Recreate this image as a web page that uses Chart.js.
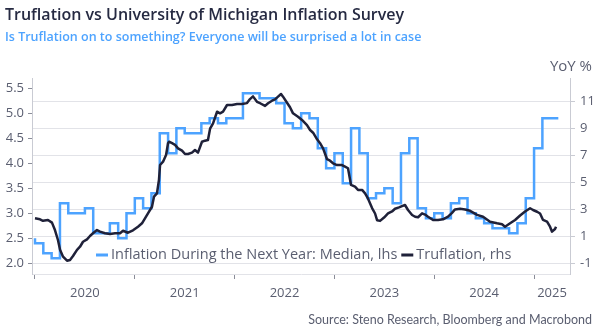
<!DOCTYPE html>
<html>
<head>
<meta charset="utf-8"/>
<title>Truflation vs UMich</title>
<script src="https://cdn.jsdelivr.net/npm/chart.js@4.4.1/dist/chart.umd.min.js"></script>
<style>
  body { margin: 0; background: #fff; }
  #wrap { width: 604px; height: 335px; }
</style>
</head>
<body>
<div id="wrap"><canvas id="chart" width="604" height="335"></canvas></div>
<script>
// University of Michigan, inflation during the next year (median), monthly from Jan 2020
var umichStart = 2020;
var umichValues = [
  2.5, 2.4, 2.2, 2.1, 3.2, 3.0, 3.0, 3.1, 2.6, 2.6, 2.8, 2.5,
  3.0, 3.3, 3.1, 3.4, 4.6, 4.2, 4.7, 4.6, 4.6, 4.8, 4.9, 4.8,
  4.9, 4.9, 5.4, 5.4, 5.3, 5.3, 5.2, 4.8, 4.7, 5.0, 4.9, 4.3,
  3.9, 4.2, 3.6, 4.7, 4.2, 3.3, 3.4, 3.5, 3.2, 4.2, 4.5, 3.1,
  2.9, 3.0, 2.9, 3.2, 3.3, 3.0, 2.9, 2.8, 2.7, 2.7, 2.6, 2.8,
  3.3, 4.3, 4.9
];
var umichLastObs = 2025.243; // date the last reading runs to

// Truflation, rhs (decimal year, YoY %)
var truflationT = [
  2020.000, 2020.050, 2020.080, 2020.130, 2020.170, 2020.200, 2020.230, 2020.251,
  2020.281, 2020.321, 2020.351, 2020.381, 2020.421, 2020.451, 2020.481, 2020.521,
  2020.551, 2020.581, 2020.621, 2020.651, 2020.701, 2020.752, 2020.802, 2020.852,
  2020.882, 2020.932, 2020.982, 2021.032, 2021.072, 2021.102, 2021.132, 2021.172,
  2021.192, 2021.222, 2021.242, 2021.253, 2021.283, 2021.313, 2021.333, 2021.343,
  2021.373, 2021.403, 2021.433, 2021.473, 2021.503, 2021.533, 2021.573, 2021.603,
  2021.633, 2021.673, 2021.703, 2021.733, 2021.754, 2021.784, 2021.824, 2021.854,
  2021.884, 2021.924, 2021.974, 2022.024, 2022.074, 2022.124, 2022.154, 2022.184,
  2022.224, 2022.255, 2022.305, 2022.335, 2022.375, 2022.405, 2022.435, 2022.465,
  2022.485, 2022.525, 2022.555, 2022.585, 2022.635, 2022.675, 2022.725, 2022.756,
  2022.786, 2022.826, 2022.856, 2022.886, 2022.926, 2022.956, 2022.986, 2023.026,
  2023.076, 2023.106, 2023.136, 2023.166, 2023.206, 2023.236, 2023.277, 2023.307,
  2023.337, 2023.377, 2023.407, 2023.427, 2023.457, 2023.497, 2023.537, 2023.577,
  2023.607, 2023.647, 2023.677, 2023.707, 2023.737, 2023.778, 2023.808, 2023.838,
  2023.878, 2023.908, 2023.938, 2023.988, 2024.038, 2024.088, 2024.138, 2024.178,
  2024.208, 2024.259, 2024.309, 2024.359, 2024.429, 2024.489, 2024.559, 2024.629,
  2024.679, 2024.709, 2024.760, 2024.810, 2024.860, 2024.910, 2024.960, 2024.990,
  2025.030, 2025.060, 2025.090, 2025.130, 2025.160, 2025.180, 2025.210, 2025.220
];
var truflationValues = [
  2.34, 2.27, 2.16, 2.22, 2.02, 1.47, 0.73, 0.00,
  -0.51, -0.81, -0.75, -0.46, 0.00, 0.23, 0.60, 0.78,
  1.03, 1.23, 1.47, 1.35, 1.23, 1.18, 1.23, 1.23,
  1.42, 1.27, 1.45, 1.72, 1.97, 2.34, 2.71, 3.20,
  3.95, 4.20, 5.19, 6.30, 6.55, 7.05, 7.92, 8.03,
  7.92, 7.80, 7.54, 7.37, 7.12, 7.12, 7.22, 7.42,
  7.22, 8.03, 8.11, 8.16, 9.00, 9.40, 10.26, 10.14,
  10.26, 10.76, 10.76, 10.83, 10.83, 10.90, 11.20, 11.40,
  11.00, 10.89, 10.69, 10.89, 11.08, 11.18, 11.38, 11.58,
  11.38, 10.93, 10.59, 10.14, 9.89, 9.65, 9.27, 8.90,
  8.70, 8.21, 7.92, 7.54, 6.73, 6.62, 6.43, 6.30,
  6.30, 6.18, 6.06, 4.82, 4.69, 4.45, 4.45, 4.20,
  3.80, 3.10, 2.70, 2.20, 2.15, 2.40, 2.70, 2.85,
  3.05, 3.15, 3.25, 3.33, 2.96, 2.59, 2.46, 2.42,
  2.71, 2.62, 2.46, 2.22, 2.22, 2.27, 2.46, 2.75,
  3.00, 3.05, 3.00, 2.90, 2.60, 2.46, 2.09, 1.97,
  1.90, 1.72, 1.97, 2.22, 2.55, 2.85, 3.09, 2.96,
  2.83, 2.70, 2.22, 2.09, 1.72, 1.35, 1.55, 1.72
];

var yearLabels = ['2020', '2021', '2022', '2023', '2024', '2025'];
var lhsTicks = [2.0, 2.5, 3.0, 3.5, 4.0, 4.5, 5.0, 5.5];
var rhsTicks = [-1, 0, 1, 2, 3, 4, 5, 6, 7, 8, 9, 10, 11, 12];

var blue = '#4da3ff';
var navy = '#1f2139';
var textGrey = '#5a5e70';
var gridGrey = '#e2e3e8';
var axisGrey = '#c9cbd3';
var font = "'Open Sans', sans-serif";

var xMin = 2019.97, xMax = 2025.36;

var umichData = umichValues.map(function (v, i) { return { x: umichStart + i / 12, y: v }; });
umichData.push({ x: umichLastObs, y: umichValues[umichValues.length - 1] });
var truData = truflationT.map(function (t, i) { return { x: t, y: truflationValues[i] }; });

// year boundaries get tick marks, labels sit in the middle of each year
var xTicks = [];
yearLabels.forEach(function (y) {
  var yr = parseInt(y, 10);
  xTicks.push({ value: yr });
  xTicks.push({ value: (yr + Math.min(yr + 1, xMax)) / 2, label: y });
});

var extras = {
  id: 'extras',
  afterDraw: function (chart) {
    var ctx = chart.ctx;
    var area = chart.chartArea;
    ctx.save();
    ctx.fillStyle = textGrey;
    ctx.font = '15px ' + font;
    ctx.textAlign = 'right';
    ctx.textBaseline = 'middle';
    ctx.fillText('YoY %', 592, 67);

    ctx.font = '12.5px Lato, sans-serif';
    ctx.fillText('Source: Steno Research, Bloomberg and Macrobond', 592, 320);

    // legend inside the plot
    ctx.font = '14.5px ' + font;
    ctx.textAlign = 'left';
    var x = 96, y = area.bottom - 19;
    chart.data.datasets.forEach(function (ds) {
      ctx.fillStyle = ds.borderColor;
      ctx.fillRect(x, y - 1.5, 12, 3);
      x += 15;
      ctx.fillStyle = textGrey;
      ctx.fillText(ds.label, x, y);
      x += ctx.measureText(ds.label).width + 4;
    });
    ctx.restore();
  }
};

new Chart(document.getElementById('chart'), {
  type: 'line',
  data: {
    datasets: [{
      label: 'Inflation During the Next Year: Median, lhs',
      data: umichData,
      yAxisID: 'y',
      borderColor: blue,
      borderWidth: 2.5,
      stepped: 'after',
      pointRadius: 0,
      order: 2
    }, {
      label: 'Truflation, rhs',
      data: truData,
      yAxisID: 'y1',
      borderColor: navy,
      borderWidth: 2.5,
      borderJoinStyle: 'round',
      pointRadius: 0,
      tension: 0,
      order: 1
    }]
  },
  options: {
    responsive: false,
    animation: false,
    layout: { padding: { left: 5, right: 8, top: 0, bottom: 0 } },
    plugins: {
      legend: { display: false },
      tooltip: { enabled: false },
      title: {
        display: true,
        text: 'Truflation vs University of Michigan Inflation Survey',
        align: 'start',
        color: '#262a42',
        font: { family: font, size: 16, weight: '600' },
        padding: { top: 5.5, bottom: 2 }
      },
      subtitle: {
        display: true,
        text: 'Is Truflation on to something? Everyone will be surprised a lot in case',
        align: 'start',
        color: blue,
        font: { family: font, size: 12.5, weight: '600' },
        padding: { top: 3, bottom: 33.3 }
      }
    },
    scales: {
      x: {
        type: 'linear',
        min: xMin,
        max: xMax,
        afterBuildTicks: function (s) { s.ticks = xTicks.map(function (t) { return { value: t.value }; }); },
        afterFit: function (s) { s.height = 61; },
        ticks: {
          autoSkip: false,
          maxRotation: 0,
          padding: 6,
          color: textGrey,
          font: { family: font, size: 13 },
          callback: function (v) {
            var t = xTicks.find(function (k) { return k.value === v; });
            return t && t.label ? t.label : '';
          }
        },
        grid: {
          drawOnChartArea: false,
          tickLength: 5,
          tickColor: function (c) { return c.tick && Number.isInteger(c.tick.value) ? '#8a8d99' : 'rgba(0,0,0,0)'; }
        },
        border: { color: gridGrey }
      },
      y: {
        position: 'left',
        min: 1.786,
        max: 5.706,
        afterBuildTicks: function (s) { s.ticks = lhsTicks.map(function (v) { return { value: v }; }); },
        afterFit: function (s) { s.width = 27; },
        ticks: {
          padding: 4,
          color: textGrey,
          font: { family: font, size: 13 },
          callback: function (v) { return v.toFixed(1); }
        },
        grid: { drawOnChartArea: false, tickLength: 4, tickColor: '#8a8d99' },
        border: { color: axisGrey }
      },
      y1: {
        position: 'right',
        min: -1.795,
        max: 12.765,
        afterBuildTicks: function (s) { s.ticks = rhsTicks.map(function (v) { return { value: v }; }); },
        afterFit: function (s) { s.width = 26; },
        ticks: {
          padding: 5,
          color: textGrey,
          font: { family: font, size: 13 },
          callback: function (v) { return Math.abs(v % 2) === 1 ? String(v) : ''; }
        },
        grid: { color: gridGrey, tickLength: 5, tickColor: axisGrey },
        border: { color: axisGrey }
      }
    }
  },
  plugins: [extras]
});
</script>
</body>
</html>
